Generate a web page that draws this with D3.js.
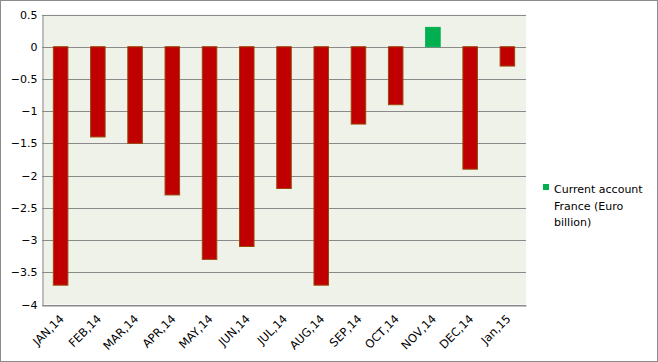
<!DOCTYPE html>
<html>
<head>
<meta charset="utf-8">
<script src="https://cdn.jsdelivr.net/npm/d3@7"></script>
<style>
  body { margin: 0; background: #fff; }
  svg { display: block; font-family: "DejaVu Sans", Verdana, sans-serif; }
</style>
</head>
<body>
<div id="chart"></div>
<script>
// months and current account values (Euro billion)
const months = ["JAN,14", "FEB,14", "MAR,14", "APR,14", "MAY,14", "JUN,14", "JUL,14",
                "AUG,14", "SEP,14", "OCT,14", "NOV,14", "DEC,14", "Jan,15"];
const balance = [-3.7, -1.4, -1.5, -2.3, -3.3, -3.1, -2.2, -3.7, -1.2, -0.9, 0.3, -1.9, -0.3];
const yTicks = [0.5, 0, -0.5, -1, -1.5, -2, -2.5, -3, -3.5, -4];
const legendLines = ["Current account", "France (Euro", "billion)"];

const width = 658, height = 362;
const plot = { left: 42, right: 526, top: 14.5, bottom: 304.5 };

const svg = d3.select("#chart").append("svg")
    .attr("width", width)
    .attr("height", height);

// outer frame
svg.append("rect")
    .attr("x", 0.5).attr("y", 0.5)
    .attr("width", width - 1).attr("height", height - 1)
    .attr("fill", "#fff")
    .attr("stroke", "#8c8c8c");

const x = d3.scaleBand()
    .domain(months)
    .range([plot.left, plot.right])
    .paddingInner(0.61)
    .paddingOuter(0.305);

const y = d3.scaleLinear()
    .domain([-4, 0.5])
    .range([plot.bottom, plot.top]);

// plot background
svg.append("rect")
    .attr("x", plot.left).attr("y", plot.top)
    .attr("width", plot.right - plot.left)
    .attr("height", plot.bottom - plot.top)
    .attr("fill", "#eff2e9");

// gridlines
svg.append("g")
    .selectAll("line")
    .data(yTicks)
    .join("line")
    .attr("x1", plot.left).attr("x2", plot.right)
    .attr("y1", d => Math.round(y(d)) + 0.5)
    .attr("y2", d => Math.round(y(d)) + 0.5)
    .attr("stroke", "#8a8a8a");

// y axis
const yAxis = svg.append("g")
    .attr("transform", `translate(${plot.left + 0.5},0)`)
    .call(d3.axisLeft(y).tickValues(yTicks).tickSize(0).tickPadding(5).tickFormat(d3.format("")));
yAxis.select(".domain").attr("stroke", "#8a8a8a");
yAxis.selectAll("text")
    .attr("font-size", 11)
    .attr("fill", "#000")
    .attr("font-family", "DejaVu Sans, Verdana, sans-serif");

// x axis
const xAxis = svg.append("g")
    .attr("transform", `translate(0,${Math.round(plot.bottom) + 0.5})`)
    .call(d3.axisBottom(x).tickSize(0).tickPadding(0));
xAxis.select(".domain").attr("stroke", "#8a8a8a");
xAxis.selectAll("text")
    .attr("font-size", 11.5)
    .attr("fill", "#000")
    .attr("font-family", "DejaVu Sans, Verdana, sans-serif")
    .attr("text-anchor", "end")
    .attr("dy", null)
    .attr("y", 0)
    .attr("transform", "translate(4,14) rotate(-45)");

// bars
svg.append("g")
    .selectAll("rect")
    .data(months.map((m, i) => ({ m, v: balance[i] })))
    .join("rect")
    .attr("x", d => x(d.m))
    .attr("width", x.bandwidth())
    .attr("y", d => y(Math.max(0, d.v)))
    .attr("height", d => Math.abs(y(d.v) - y(0)))
    .attr("fill", d => d.v >= 0 ? "#00b050" : "#c00000")
    .attr("stroke", d => d.v >= 0 ? "#00b050" : "#984807")
    .attr("stroke-width", 1);

// legend
const legend = svg.append("g").attr("transform", "translate(543,184)");
legend.append("rect")
    .attr("width", 6).attr("height", 6)
    .attr("fill", "#00b050");
legend.selectAll("text")
    .data(legendLines)
    .join("text")
    .attr("x", 11)
    .attr("y", (d, i) => 9 + i * 16.5)
    .attr("font-size", 11)
    .attr("fill", "#000")
    .text(d => d);
</script>
</body>
</html>
